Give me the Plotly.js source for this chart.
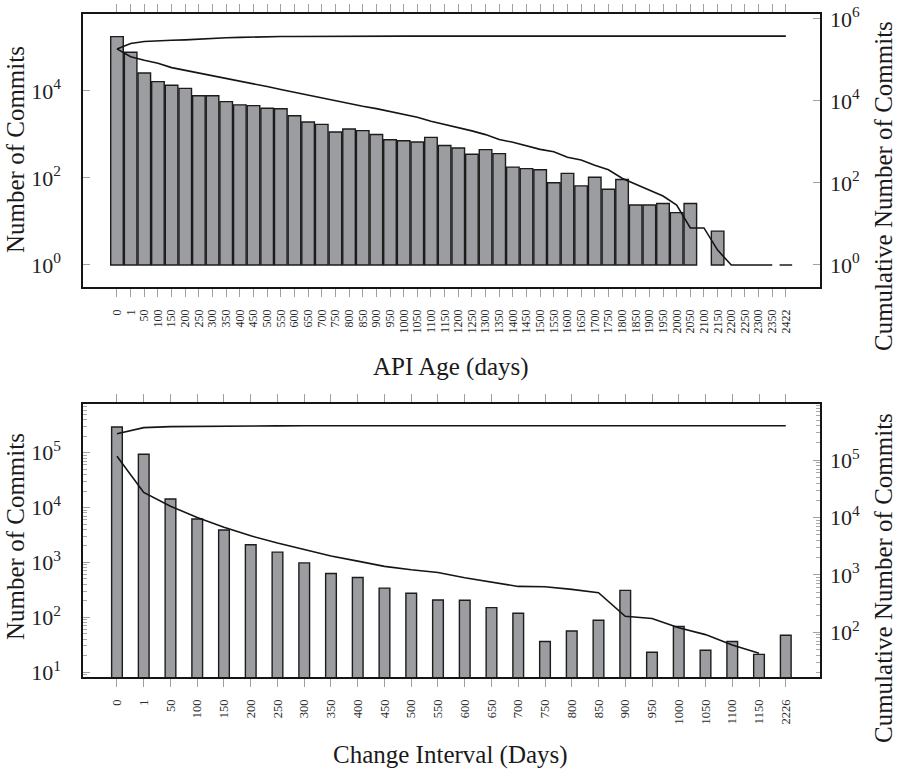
<!DOCTYPE html>
<html>
<head>
<meta charset="utf-8">
<script src="https://cdn.plot.ly/plotly-3.0.1.min.js"></script>
<style>
  html, body { margin: 0; padding: 0; background: #ffffff; }
  #chart { width: 900px; height: 771px; }
</style>
</head>
<body>
<div id="chart"></div>
<script>
// ---- API age histogram (upper panel) ----
const ageCategories = ['0', '1', '50', '100', '150', '200', '250', '300', '350', '400',
  '450', '500', '550', '600', '650', '700', '750', '800', '850', '900',
  '950', '1000', '1050', '1100', '1150', '1200', '1250', '1300', '1350', '1400',
  '1450', '1500', '1550', '1600', '1650', '1700', '1750', '1800', '1850', '1900',
  '1950', '2000', '2050', '2100', '2150', '2200', '2250', '2300', '2350', '2422'];

const ageCommits = [178000, 78000, 26000, 16400, 13500, 11500, 7800, 7800, 5700, 4800,
  4600, 4000, 3900, 2700, 1940, 1710, 1140, 1340, 1230, 1000,
  760, 720, 670, 860, 560, 490, 350, 450, 364, 178,
  164, 155, 78, 128, 66, 104, 55, 92, 24, 24,
  26, 16, 26, null, 6, null, null, null, null, 1];

const ageCumulative = [186000, 251000, 282000, 295000, 302000, 309000, 324000, 339000, 347000, 355000,
  363000, 363000, 372000, 372000, 375000, 376000, 377000, 378000, 378000, 379000,
  379000, 380000, 380000, 380000, 380000, 380000, 380000, 380000, 380000, 380000,
  380000, 380000, 380000, 380000, 380000, 380000, 380000, 380000, 380000, 380000,
  380000, 380000, 380000, 380000, 380000, 380000, 380000, 380000, 380000, 380000];

const ageRemaining = [186000, 120000, 98000, 83000, 65000, 56000, 49000, 42000, 35500, 30000,
  26000, 22400, 19000, 16200, 13800, 11700, 9800, 8500, 7400, 6500,
  5500, 4700, 4000, 3200, 2700, 2200, 1860, 1510, 1150, 980,
  810, 660, 575, 425, 365, 270, 210, 130, 93, 68,
  48, 29, 8, 8, 2.3, 1, 1, 1, 1, null];

const ageLeftTickVals = [1, 100, 10000];
const ageLeftTickText = ['10<sup>0</sup>', '10<sup>2</sup>', '10<sup>4</sup>'];
const ageRightTickVals = [1, 100, 10000, 1000000];
const ageRightTickText = ['10<sup>0</sup>', '10<sup>2</sup>', '10<sup>4</sup>', '10<sup>6</sup>'];

// ---- change interval histogram (lower panel) ----
const intervalCategories = ['0', '1', '50', '100', '150', '200', '250', '300', '350', '400',
  '450', '500', '550', '600', '650', '700', '750', '800', '850', '900',
  '950', '1000', '1050', '1100', '1150', '2226'];

const intervalCommits = [295000, 94000, 14400, 6200, 3900, 2100, 1540, 980, 630, 530,
  340, 274, 206, 204, 150, 118, 36, 56, 88, 309,
  23, 68, 25, 36, 21, 47];

const intervalCumulative = [290000, 370000, 385000, 390000, 394000, 396000, 397000, 398000, 398000, 398000,
  399000, 399000, 399000, 399000, 399000, 399000, 399000, 399000, 399000, 400000,
  400000, 400000, 400000, 400000, 400000, 400000];

const intervalRemaining = [117000, 27500, 15800, 10000, 6800, 4800, 3600, 2800, 2140, 1740,
  1410, 1230, 1100, 890, 740, 630, 620, 560, 490, 190,
  174, 120, 91, 60, 43, null];

const intervalLeftTickVals = [10, 100, 1000, 10000, 100000];
const intervalLeftTickText = ['10<sup>1</sup>', '10<sup>2</sup>', '10<sup>3</sup>', '10<sup>4</sup>', '10<sup>5</sup>'];
const intervalRightTickVals = [100, 1000, 10000, 100000];
const intervalRightTickText = ['10<sup>2</sup>', '10<sup>3</sup>', '10<sup>4</sup>', '10<sup>5</sup>'];

// ---- styling ----
const W = 900, H = 771;
const serif = 'Liberation Serif, Times New Roman, serif';
const barFill = '#9b9da0';
const barEdge = '#1c1c1c';
const ink = '#151515';
const tickGray = '#a0a0a0';

// minor log ticks: 2..9 inside every decade
const minorLogTicks = [];
for (let e = 0; e <= 6; e++) {
  for (let m = 2; m <= 9; m++) minorLogTicks.push(m * Math.pow(10, e));
}

// bars rise from 10^0 on the log scale
const fromOne = arr => arr.map(v => (v == null ? null : v - 1));

function barTrace(x, y, xa, ya, width) {
  return {
    type: 'bar', x: x, y: fromOne(y), base: 1, width: width,
    xaxis: xa, yaxis: ya,
    marker: { color: barFill, line: { color: barEdge, width: 1.4 } },
    hoverinfo: 'skip'
  };
}
function lineTrace(x, y, xa, ya) {
  return {
    type: 'scatter', mode: 'lines', x: x, y: y, xaxis: xa, yaxis: ya,
    line: { color: ink, width: 1.6 }, connectgaps: false, hoverinfo: 'skip'
  };
}

const data = [
  barTrace(ageCategories, ageCommits, 'x', 'y', 0.92),
  lineTrace(ageCategories, ageCumulative, 'x', 'y2'),
  lineTrace(ageCategories, ageRemaining, 'x', 'y2'),
  barTrace(intervalCategories, intervalCommits, 'x2', 'y3', 0.4),
  lineTrace(intervalCategories, intervalCumulative, 'x2', 'y4'),
  lineTrace(intervalCategories, intervalRemaining, 'x2', 'y4')
];

const xDomain = [83 / W, 820 / W];
const topDomain = [1 - 287 / H, 1 - 14 / H];
const bottomDomain = [1 - 677 / H, 1 - 404 / H];

function xAxis(anchor, range, fontSize) {
  return {
    domain: xDomain, anchor: anchor, type: 'category', range: range,
    tickmode: 'linear', tick0: 0, dtick: 1,
    showline: true, linecolor: ink, linewidth: 1.6, mirror: 'ticks',
    ticks: 'outside', ticklen: 8, tickwidth: 1, tickcolor: tickGray,
    tickangle: -90, ticklabelstandoff: 8,
    tickfont: { family: serif, size: fontSize, color: '#2a2a2a' },
    showgrid: false, zeroline: false, fixedrange: true, automargin: false
  };
}
function yAxis(opts) {
  return Object.assign({
    type: 'log', tickmode: 'array',
    ticks: 'inside', ticklen: 7, tickwidth: 1, tickcolor: tickGray,
    showline: true, linecolor: ink, linewidth: 1.6,
    tickfont: { family: serif, size: 22, color: '#222' },
    showgrid: false, zeroline: false, fixedrange: true, automargin: false
  }, opts);
}
const minorTicks = {
  tickmode: 'array', tickvals: minorLogTicks,
  ticks: 'inside', ticklen: 4, tickwidth: 1, tickcolor: '#a8a8a8', showgrid: false
};

function label(text, px, py, angle) {
  return {
    text: text, xref: 'paper', yref: 'paper', x: px / W, y: 1 - py / H,
    xanchor: 'center', yanchor: 'middle', showarrow: false, textangle: angle || 0,
    font: { family: serif, size: 25, color: '#1a1a1a' }
  };
}

const layout = {
  width: W, height: H,
  margin: { l: 0, r: 0, t: 0, b: 0 },
  paper_bgcolor: '#ffffff', plot_bgcolor: '#ffffff',
  showlegend: false,
  xaxis: xAxis('y', [-2.49, 51.5], 12),
  yaxis: yAxis({ domain: topDomain, anchor: 'x', range: [-0.506, 5.77],
    tickvals: ageLeftTickVals, ticktext: ageLeftTickText, ticklabelstandoff: 16 }),
  yaxis2: yAxis({ overlaying: 'y', side: 'right', anchor: 'x', range: [-0.537, 6.12],
    tickvals: ageRightTickVals, ticktext: ageRightTickText, ticklabelstandoff: 4 }),
  xaxis2: xAxis('y3', [-1.27, 26.28], 12.5),
  yaxis3: yAxis({ domain: bottomDomain, anchor: 'x2', range: [0.91, 5.89],
    tickvals: intervalLeftTickVals, ticktext: intervalLeftTickText, ticklabelstandoff: 16,
    minor: minorTicks }),
  yaxis4: yAxis({ overlaying: 'y3', side: 'right', anchor: 'x2', range: [1.22, 5.98],
    tickvals: intervalRightTickVals, ticktext: intervalRightTickText, ticklabelstandoff: 4,
    minor: minorTicks }),
  annotations: [
    label('Number of Commits', 16, 150, -90),
    label('Cumulative Number of Commits', 883, 186, -90),
    label('API Age (days)', 451, 367),
    label('Number of Commits', 15, 537, -90),
    label('Cumulative Number of Commits', 883, 578, -90),
    label('Change Interval (Days)', 451, 755)
  ]
};

Plotly.newPlot('chart', data, layout, { staticPlot: true, displayModeBar: false });
</script>
</body>
</html>
